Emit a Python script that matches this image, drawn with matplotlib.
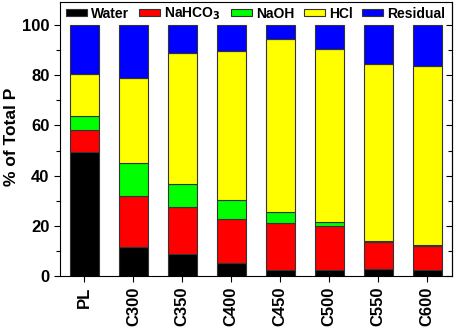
import matplotlib
matplotlib.use("Agg")
import matplotlib.pyplot as plt
import numpy as np
from matplotlib.ticker import MultipleLocator

categories = ["PL", "C300", "C350", "C400", "C450", "C500", "C550", "C600"]
water    = [49.4, 11.6, 8.7, 5.4, 2.4, 2.4, 2.9, 2.4]
nahco3   = [8.6, 20.3, 18.7, 17.4, 18.8, 17.6, 10.9, 9.7]
naoh     = [5.6, 13.0, 9.2, 7.5, 4.2, 1.6, 0.3, 0.3]
hcl      = [16.9, 33.9, 52.1, 59.4, 68.7, 68.8, 70.1, 71.0]
residual = [19.5, 21.2, 11.3, 10.3, 5.9, 9.6, 15.8, 16.6]

series = [("Water", water, "#000000"),
          ("NaHCO$_3$", nahco3, "#FF0000"),
          ("NaOH", naoh, "#00FF00"),
          ("HCl", hcl, "#FFFF00"),
          ("Residual", residual, "#0000FF")]

plt.rcParams['font.family'] = ['Liberation Sans', 'DejaVu Sans']
plt.rcParams['font.weight'] = 'bold'

fig = plt.figure(figsize=(4.54, 3.31), dpi=100)
ax = fig.add_axes([0.132, 0.165, 0.863, 0.829])

x = np.arange(len(categories))
bottom = np.zeros(len(categories))
for name, vals, col in series:
    vals = np.array(vals)
    ax.bar(x, vals, width=0.6, bottom=bottom, color=col, edgecolor="#333333",
           linewidth=0.8, label=name)
    bottom += vals

ax.set_xlim(-0.5, 7.5)
ax.set_ylim(0, 109)
ax.set_xticks(x)
ax.set_xticklabels(categories, rotation=90, fontsize=12, fontweight='bold')
ax.yaxis.set_major_locator(MultipleLocator(20))
ax.yaxis.set_minor_locator(MultipleLocator(10))
ax.set_yticks([0, 20, 40, 60, 80, 100])
ax.set_yticklabels(["0", "20", "40", "60", "80", "100"], fontsize=12, fontweight='bold')
ax.tick_params(axis='both', which='major', direction='out', length=4, width=0.8)
ax.tick_params(axis='y', which='minor', direction='out', length=3, width=0.8)
ax.set_ylabel("% of Total P", fontsize=12.5, fontweight='bold')
ax.yaxis.set_label_coords(-0.104, 0.51)

sec = ax.secondary_yaxis('right')
sec.yaxis.set_major_locator(MultipleLocator(20))
sec.yaxis.set_minor_locator(MultipleLocator(10))
sec.tick_params(which='major', direction='in', length=4, width=0.8, labelright=False)
sec.tick_params(which='minor', direction='in', length=3, width=0.8)
sec.spines['right'].set_linewidth(0.8)

for s in ax.spines.values():
    s.set_linewidth(0.8)

leg = ax.legend(loc='upper center', bbox_to_anchor=(0.5, 1.012), ncol=5, frameon=False,
                handlelength=1.5, handleheight=0.45, handletextpad=0.3,
                columnspacing=0.7, borderaxespad=0.1,
                prop={'weight': 'bold', 'size': 10})

fig.savefig("out.png", dpi=100)
